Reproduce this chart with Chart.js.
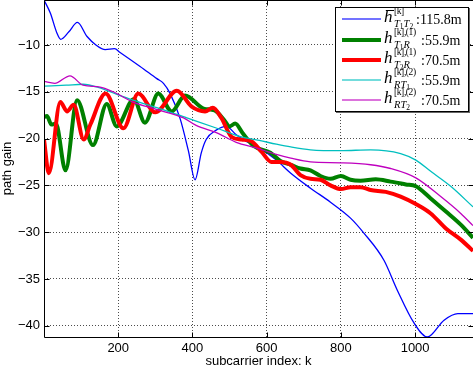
<!DOCTYPE html>
<html>
<head>
<meta charset="utf-8">
<script src="https://cdn.jsdelivr.net/npm/chart.js@4.4.0/dist/chart.umd.min.js"></script>
<style>
  html, body { margin: 0; padding: 0; background: #fff; }
  #wrap { position: relative; width: 473px; height: 369px; }
  #c { position: absolute; left: 0; top: 0; }
  #legend { position: absolute; left: 335px; top: 7px; width: 132px; height: 103px;
            border: 1px solid #000; background: #fff; box-shadow: 1px 1px 0 #666;
            font-family: "Liberation Serif", "DejaVu Serif", serif; color: #000; }
  .row { position: absolute; left: 0; width: 132px; height: 20px; }
  .ln { position: absolute; left: 6px; width: 39px; top: 50%; }
  .math { position: absolute; left: 48px; top: 0; height: 20px; width: 34px; white-space: nowrap; }
  .h { position: absolute; left: 0; top: -1px; font-style: italic; font-size: 17px; line-height: 18px; }
  .bar { position: absolute; left: 2px; top: 1px; width: 8px; height: 1px; background: #000; }
  .sp { position: absolute; left: 10px; top: -3px; font-size: 9.5px; line-height: 10px; letter-spacing: -0.4px; }
  .sb { position: absolute; left: 10px; top: 10px; font-size: 10.5px; line-height: 10px; }
  .sb i { font-style: italic; }
  .sb sub { font-size: 7.5px; vertical-align: -2px; line-height: 7px; }
  .val { position: absolute; top: 2px; font-size: 14px; line-height: 18px; }
</style>
</head>
<body>
<div id="wrap">
  <canvas id="c" width="473" height="369"></canvas>
  <div id="legend"></div>
</div>
<script>
// ---- data ----
const xTicks = [200, 400, 600, 800, 1000];
const yTicks = [-10, -15, -20, -25, -30, -35, -40];

const blueK = [0, 17, 35, 45, 67, 90, 116, 140, 165, 190, 205, 259, 304, 322, 340, 367, 389, 407, 424, 437, 464, 491, 518, 545, 580, 626, 665, 718, 772, 826, 862, 916, 952, 997, 1033, 1078, 1115, 1156];
const blueV = [-5.2, -6.6, -8.75, -9.4, -8.6, -7.6, -9.1, -10.0, -10.5, -10.4, -10.8, -12.3, -13.6, -14.1, -15.2, -17.9, -21.3, -24.4, -21.5, -20.1, -19.1, -18.7, -19.6, -20.3, -21.0, -22.3, -23.7, -25.3, -26.8, -28.5, -30.1, -33.0, -36.2, -39.7, -41.2, -39.4, -38.7, -38.7];

const greenK = [0, 8, 20, 32, 58, 89, 132, 169, 196, 242, 272, 308, 344, 380, 430, 460, 485, 500, 515, 535, 565, 610, 637, 665, 691, 718, 745, 772, 800, 826, 853, 894, 934, 975, 1002, 1042, 1083, 1123, 1156];
const greenV = [-17.7, -17.6, -18.5, -18.4, -23.4, -15.9, -20.7, -16.3, -18.7, -15.8, -18.3, -15.2, -17.1, -15.4, -16.8, -17.0, -18.0, -18.7, -18.4, -19.4, -20.8, -21.5, -22.4, -22.8, -23.2, -23.4, -24.0, -24.3, -24.0, -24.4, -24.5, -24.35, -24.6, -24.9, -25.1, -26.4, -27.8, -29.2, -30.6];

const redK = [0, 13, 44, 62, 80, 107, 125, 166, 214, 254, 300, 358, 398, 434, 455, 478, 505, 532, 559, 586, 613, 637, 665, 691, 718, 745, 772, 800, 826, 853, 880, 921, 961, 1002, 1042, 1083, 1123, 1156];
const redV = [-20.1, -23.7, -16.1, -17.1, -16.4, -20.1, -18.5, -15.2, -18.9, -15.2, -17.2, -14.9, -16.6, -17.1, -16.7, -17.8, -19.8, -20.1, -20.3, -21.4, -22.5, -22.5, -22.8, -23.9, -24.3, -24.4, -25.0, -25.4, -25.2, -25.2, -25.5, -25.7, -26.2, -27.0, -28.0, -29.6, -30.8, -32.0];

const cyanK = [0, 60, 105, 151, 178, 240, 304, 385, 466, 529, 580, 626, 665, 718, 800, 880, 961, 1002, 1042, 1096, 1156];
const cyanV = [-14.4, -14.3, -14.2, -14.6, -15.0, -15.9, -16.7, -17.8, -18.9, -19.8, -20.2, -20.6, -20.9, -21.2, -21.3, -21.2, -21.6, -22.3, -23.5, -25.1, -27.3];

const magK = [0, 29, 70, 105, 151, 186, 240, 304, 376, 410, 466, 518, 572, 626, 665, 718, 800, 880, 934, 1002, 1069, 1123, 1156];
const magV = [-13.9, -14.1, -13.3, -14.3, -14.5, -15.0, -16.1, -16.9, -17.8, -18.6, -19.4, -20.4, -21.0, -21.7, -22.1, -22.5, -22.6, -22.8, -23.2, -24.2, -26.2, -28.0, -29.3];

// legend text pieces
const legSup  = ['[k]', '[k],(1)', '[k],(1)', '[k],(2)', '[k],(2)'];
const legSub  = [[['T','1'],['T','2']], [['T','1'],['R','']], [['T','2'],['R','']], [['R',''],['T','1']], [['R',''],['T','2']]];
const legBar  = [true, false, false, false, false];
const legDist = [':115.8m', ':55.9m', ':70.5m', ':55.9m', ':70.5m'];

const colors = ['#0000ff', '#008000', '#ff0000', '#00bfbf', '#bf00bf'];
const widths = [1.3, 4, 4, 1.3, 1.3];

// ---- chart ----
const pts = (k, v) => k.map((x, i) => ({ x: x, y: v[i] }));
const series = [pts(blueK, blueV), pts(greenK, greenV), pts(redK, redV), pts(cyanK, cyanV), pts(magK, magV)];

const datasets = series.map((d, i) => ({
  data: d,
  borderColor: colors[i],
  borderWidth: widths[i],
  pointRadius: 0,
  fill: false,
  cubicInterpolationMode: 'monotone',
  order: 5 - i
}));

const FONT = { family: '"Liberation Sans", Arial, sans-serif', size: 13 };

const boxPlugin = {
  id: 'box',
  afterDraw(chart) {
    const ctx = chart.ctx, a = chart.chartArea;
    const xs = chart.scales.x, ys = chart.scales.y;
    ctx.save();
    ctx.strokeStyle = '#000';
    ctx.lineWidth = 1;
    ctx.setLineDash([]);
    ctx.beginPath();
    const L = a.left + 0.5, R = a.right + 0.5, T = a.top + 0.5, B = a.bottom + 0.5;
    ctx.rect(L, T, R - L, B - T);
    const tl = 5;
    xTicks.forEach(v => {
      const px = Math.round(xs.getPixelForValue(v)) + 0.5;
      ctx.moveTo(px, B); ctx.lineTo(px, B - tl);
      ctx.moveTo(px, T); ctx.lineTo(px, T + tl);
    });
    yTicks.forEach(v => {
      const py = Math.round(ys.getPixelForValue(v)) + 0.5;
      ctx.moveTo(L, py); ctx.lineTo(L + tl, py);
      ctx.moveTo(R, py); ctx.lineTo(R - tl, py);
    });
    ctx.stroke();
    ctx.restore();
  }
};

new Chart(document.getElementById('c'), {
  type: 'line',
  data: { datasets },
  options: {
    responsive: false,
    animation: false,
    events: [],
    layout: { padding: { top: 0, right: 0, left: 0, bottom: 0 } },
    plugins: { legend: { display: false }, tooltip: { enabled: false } },
    scales: {
      x: {
        type: 'linear', min: 0, max: 1156,
        afterBuildTicks: s => { s.ticks = xTicks.map(v => ({ value: v })); },
        afterFit: s => { s.height = 32; s.paddingLeft = 0; s.paddingRight = 0; },
        ticks: { font: FONT, color: '#000', padding: 4, maxRotation: 0, autoSkip: false,
                 callback: v => String(v) },
        grid: { color: 'rgba(0,0,0,0.7)', lineWidth: 1, drawTicks: false },
        border: { display: false, dash: [1, 2] },
        title: { display: true, text: 'subcarrier index: k', font: FONT, color: '#000', padding: { top: 0, bottom: 0 } }
      },
      y: {
        type: 'linear', min: -41.2, max: -5.2,
        afterBuildTicks: s => { s.ticks = yTicks.map(v => ({ value: v })); },
        afterFit: s => { s.width = 44; s.paddingTop = 0; s.paddingBottom = 0; },
        ticks: { font: FONT, color: '#000', padding: 4, autoSkip: false,
                 callback: v => String(v).replace('-', '\u2212') },
        grid: { color: 'rgba(0,0,0,0.7)', lineWidth: 1, drawTicks: false },
        border: { display: false, dash: [1, 2] },
        title: { display: true, text: 'path gain', font: FONT, color: '#000', padding: { top: 0, bottom: 0 } }
      }
    }
  },
  plugins: [boxPlugin]
});

// ---- legend (HTML, real text) ----
const leg = document.getElementById('legend');
const rowCenters = [11, 32, 52, 72, 92];
legDist.forEach((dist, i) => {
  const row = document.createElement('div');
  row.className = 'row';
  row.style.top = (rowCenters[i] - 10) + 'px';
  const ln = document.createElement('span');
  ln.className = 'ln';
  ln.style.background = colors[i];
  const lw = widths[i] > 2 ? 4 : 2;
  ln.style.height = lw + 'px';
  ln.style.marginTop = (-lw / 2) + 'px';
  if (lw === 2) ln.style.opacity = '0.55';
  row.appendChild(ln);
  const m = document.createElement('span');
  m.className = 'math';
  let sub = legSub[i].map(p => '<i>' + p[0] + '</i>' + (p[1] ? '<sub>' + p[1] + '</sub>' : '')).join('');
  m.innerHTML = '<span class="h">h</span>' + (legBar[i] ? '<span class="bar"></span>' : '') +
    '<span class="sp">' + legSup[i] + '</span><span class="sb">' + sub + '</span>';
  row.appendChild(m);
  const v = document.createElement('span');
  v.className = 'val';
  v.style.left = (legSup[i].length > 3 ? 85 : 80) + 'px';
  v.textContent = dist;
  row.appendChild(v);
  leg.appendChild(row);
});
</script>
</body>
</html>
